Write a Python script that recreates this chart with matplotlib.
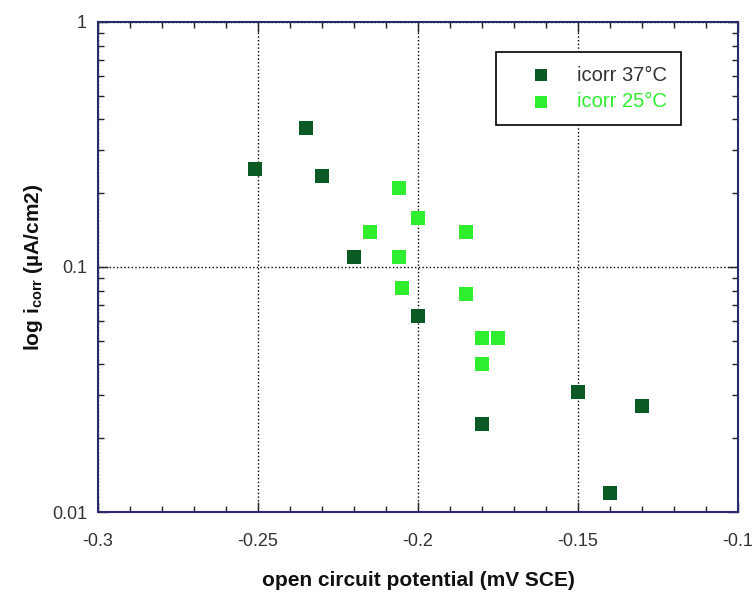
import matplotlib
matplotlib.use("Agg")
import matplotlib.pyplot as plt
from matplotlib.ticker import MultipleLocator, LogLocator, NullFormatter, FixedLocator, FixedFormatter

plt.rcParams['font.family'] = ['Liberation Sans', 'DejaVu Sans']

# open circuit potential (V SCE) and corrosion current density (uA/cm2)
ocp_37 = [-0.251, -0.235, -0.230, -0.220, -0.200, -0.180, -0.150, -0.130, -0.140]
icorr_37 = [0.252, 0.369, 0.236, 0.110, 0.063, 0.0229, 0.0309, 0.0271, 0.0120]

ocp_25 = [-0.206, -0.200, -0.215, -0.185, -0.206, -0.205, -0.185, -0.180, -0.175, -0.180]
icorr_25 = [0.211, 0.159, 0.139, 0.139, 0.110, 0.082, 0.0777, 0.0514, 0.0514, 0.0403]

x_ticks = [-0.3, -0.25, -0.2, -0.15, -0.1]
x_tick_labels = ['-0.3', '-0.25', '-0.2', '-0.15', '-0.1']
y_ticks = [0.01, 0.1, 1]
y_tick_labels = ['0.01', '0.1', '1']

dark = '#0b5a24'
light = '#2fee2f'
spine_col = '#2a2a6a'

fig = plt.figure(figsize=(7.54, 6.02), dpi=100)
ax = fig.add_axes([0.130, 0.1495, 0.849, 0.814])

ax.set_yscale('log')
ax.set_xlim(-0.3, -0.1)
ax.set_ylim(0.01, 1)

ax.scatter(ocp_37, icorr_37, marker='s', s=95, color=dark, linewidths=0,
           label='icorr 37°C', zorder=3)
ax.scatter(ocp_25, icorr_25, marker='s', s=95, color=light, linewidths=0,
           label='icorr 25°C', zorder=3)

ax.xaxis.set_major_locator(FixedLocator(x_ticks))
ax.xaxis.set_major_formatter(FixedFormatter(x_tick_labels))
ax.xaxis.set_minor_locator(MultipleLocator(0.01))
ax.yaxis.set_major_locator(FixedLocator(y_ticks))
ax.yaxis.set_major_formatter(FixedFormatter(y_tick_labels))
ax.yaxis.set_minor_locator(LogLocator(base=10, subs=range(2, 10)))
ax.yaxis.set_minor_formatter(NullFormatter())

ax.tick_params(which='both', direction='in', top=True, right=True,
               color='#222222', labelsize=13, labelcolor='#333333')
ax.tick_params(which='major', length=7, width=1)
ax.tick_params(axis='x', which='major', pad=15)
ax.tick_params(axis='y', which='major', pad=8)
ax.tick_params(which='minor', length=4, width=1)

for s in ax.spines.values():
    s.set_color(spine_col)
    s.set_linewidth(1.5)

ax.grid(True, which='major', linestyle=':', color='black', linewidth=1)

ax.set_xlabel('open circuit potential (mV SCE)', fontsize=15, fontweight='bold',
              labelpad=15, color='#111111')
ax.set_ylabel(r'log i$_{\mathregular{corr}}$ (µA/cm2)', fontsize=15,
              fontweight='bold', labelpad=5, color='#111111')

leg = ax.legend(loc='upper right', bbox_to_anchor=(0.926, 0.96), fontsize=14.5,
                frameon=True, fancybox=False, edgecolor='black', framealpha=1,
                borderpad=0.7, handlelength=3.1, handletextpad=0.2,
                labelspacing=0.35, markerscale=0.85)
leg.get_frame().set_linewidth(1.2)
texts = leg.get_texts()
texts[0].set_color('#333333')
texts[1].set_color(light)

fig.savefig('out.png', dpi=100)
